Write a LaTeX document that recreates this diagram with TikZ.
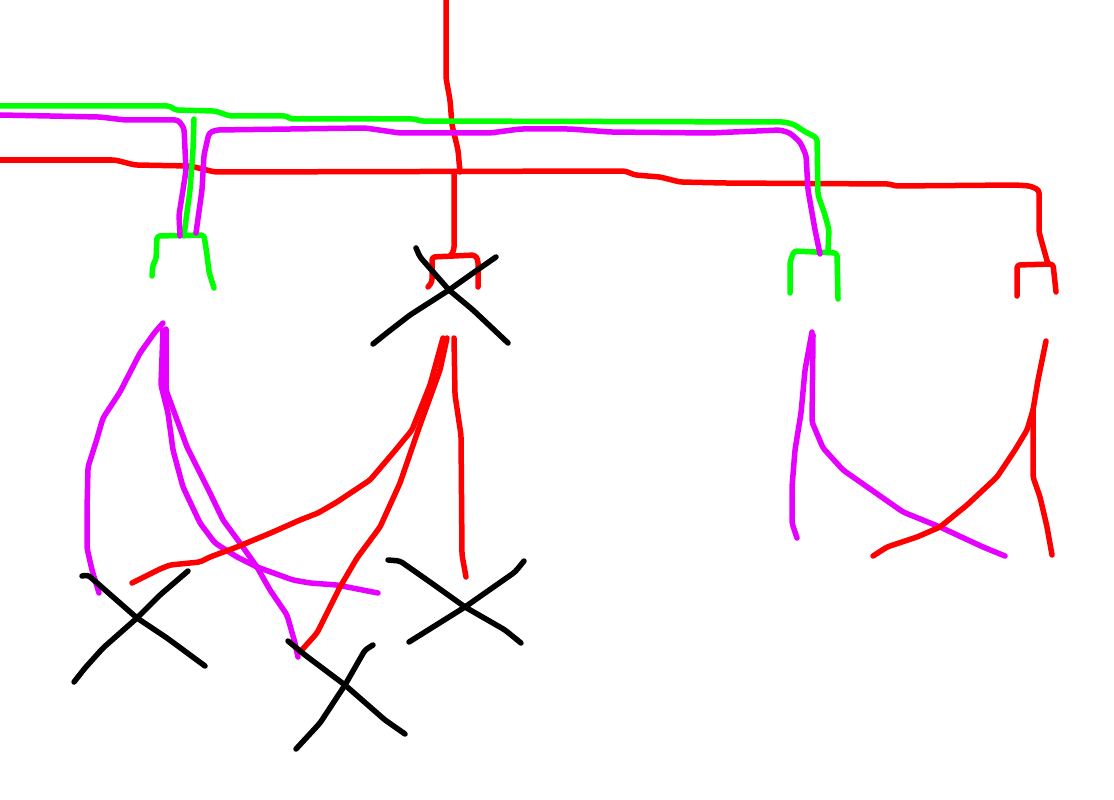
\documentclass[tikz,border=0pt]{standalone}
\definecolor{sketchgreen}{RGB}{0,255,0}
\definecolor{sketchmagenta}{RGB}{230,0,255}
\definecolor{sketchred}{RGB}{255,0,0}
\tikzstyle{stroke} = [line width=0.55mm, line join=round, line cap=round, rounded corners=0.3mm]
\tikzstyle{greenline} = [stroke, draw=sketchgreen]
\tikzstyle{magentaline} = [stroke, draw=sketchmagenta]
\tikzstyle{redline} = [stroke, draw=sketchred]
\tikzstyle{blackline} = [stroke, draw=black]
\begin{document}
\begin{tikzpicture}[x=0.1mm, y=-0.1mm]
	\useasboundingbox (0,0) rectangle (1114,799);
	% top red branches
	\draw[redline] (446,0) -- (446,78) -- (450,100) -- (452,125) -- (458,150) -- (460,172);
	\draw[redline] (0,160) -- (115,160) -- (135,165) -- (190,166) -- (215,172) -- (625,171) -- (635,175) -- (660,177) -- (680,182) -- (725,183) -- (890,184) -- (895,186) -- (1015,185) -- (1030,186) -- (1039,190) -- (1039,232) -- (1044,250) -- (1048,264);
	\draw[redline] (454,172) -- (454,250) -- (451,255);
	\draw[redline] (428,287) -- (432,282) -- (432,257) -- (475,255) -- (478,260) -- (478,287);
	\draw[redline] (1017,296) -- (1017,265) -- (1053,264) -- (1056,292);
	% green
	\draw[greenline] (0,106) -- (170,106) -- (175,110) -- (215,111) -- (230,116) -- (287,116) -- (290,119) -- (415,119) -- (420,121) -- (785,122) -- (795,125) -- (802,130) -- (817,138) -- (818,195) -- (825,215) -- (829,230) -- (828,250);
	\draw[greenline] (194,119) -- (193,150) -- (190,190) -- (186,220) -- (184,236);
	\draw[greenline] (152,276) -- (153,264) -- (156,260) -- (157,236) -- (204,235) -- (207,255) -- (209,272) -- (214,288);
	\draw[greenline] (790,293) -- (790,262) -- (794,251) -- (837,253) -- (838,299);
	% magenta
	\draw[magentaline] (0,115) -- (100,117) -- (125,120) -- (178,120) -- (184,128) -- (186,170) -- (183,190) -- (179,215) -- (180,236);
	\draw[magentaline] (196,233) -- (202,190) -- (204,155) -- (209,133) -- (216,130) -- (365,128) -- (400,133) -- (490,133) -- (520,129) -- (570,129) -- (610,132) -- (710,133) -- (780,130) -- (790,133) -- (800,142) -- (806,155) -- (808,190) -- (815,230) -- (820,254);
	% left lower group
	\draw[magentaline] (163,323) -- (155,332) -- (140,353) -- (120,392) -- (103,418) -- (96,442) -- (88,467) -- (87,510) -- (87,548) -- (92,570) -- (99,593);
	\draw[magentaline] (166,329) -- (166,390) -- (187,447) -- (197,467) -- (210,493) -- (223,520) -- (240,543) -- (257,567) -- (270,590) -- (287,615) -- (295,643) -- (298,657);
	\draw[magentaline] (163,330) -- (161,385) -- (168,413) -- (173,450) -- (183,487) -- (200,523) -- (215,543) -- (237,557) -- (257,567) -- (293,580) -- (310,583) -- (337,585) -- (378,593);
	\draw[redline] (132,583) -- (160,569) -- (170,565) -- (200,562) -- (210,557) -- (237,547) -- (273,532) -- (300,520) -- (318,513) -- (337,502) -- (370,480) -- (393,453) -- (412,430) -- (430,385) -- (443,338);
	\draw[redline] (447,338) -- (440,370) -- (420,425) -- (400,483) -- (380,527) -- (357,558) -- (340,587) -- (317,633) -- (300,652);
	\draw[redline] (454,338) -- (455,395) -- (461,435) -- (462,555) -- (466,577);
	% right lower group
	\draw[magentaline] (812,332) -- (805,370) -- (801,413) -- (795,450) -- (792,487) -- (792,523) -- (797,538);
	\draw[magentaline] (813,335) -- (812,422) -- (823,448) -- (843,470) -- (903,512) -- (940,527) -- (983,547) -- (1005,556);
	\draw[redline] (1046,341) -- (1038,380) -- (1033,410) -- (1027,430) -- (1015,450) -- (997,477) -- (967,505) -- (940,527) -- (917,537) -- (887,547) -- (873,556);
	\draw[redline] (1033,410) -- (1033,477) -- (1040,497) -- (1047,527) -- (1052,555);
	% crosses
	\draw[blackline] (416,248) -- (420,257) -- (449,290) -- (473,310) -- (508,343);
	\draw[blackline] (496,257) -- (473,273) -- (449,290) -- (410,315) -- (388,332) -- (373,344);
	\draw[blackline] (82,576) -- (88,575) -- (137,618) -- (167,638) -- (205,666);
	\draw[blackline] (188,571) -- (160,595) -- (137,618) -- (103,648) -- (85,668) -- (74,682);
	\draw[blackline] (388,560) -- (400,561) -- (430,582) -- (465,607) -- (505,630) -- (521,643);
	\draw[blackline] (524,561) -- (515,572) -- (465,607) -- (425,632) -- (409,642);
	\draw[blackline] (288,641) -- (305,655) -- (345,685) -- (385,720) -- (405,734);
	\draw[blackline] (373,645) -- (365,650) -- (345,685) -- (320,723) -- (296,749);
\end{tikzpicture}
\end{document}
